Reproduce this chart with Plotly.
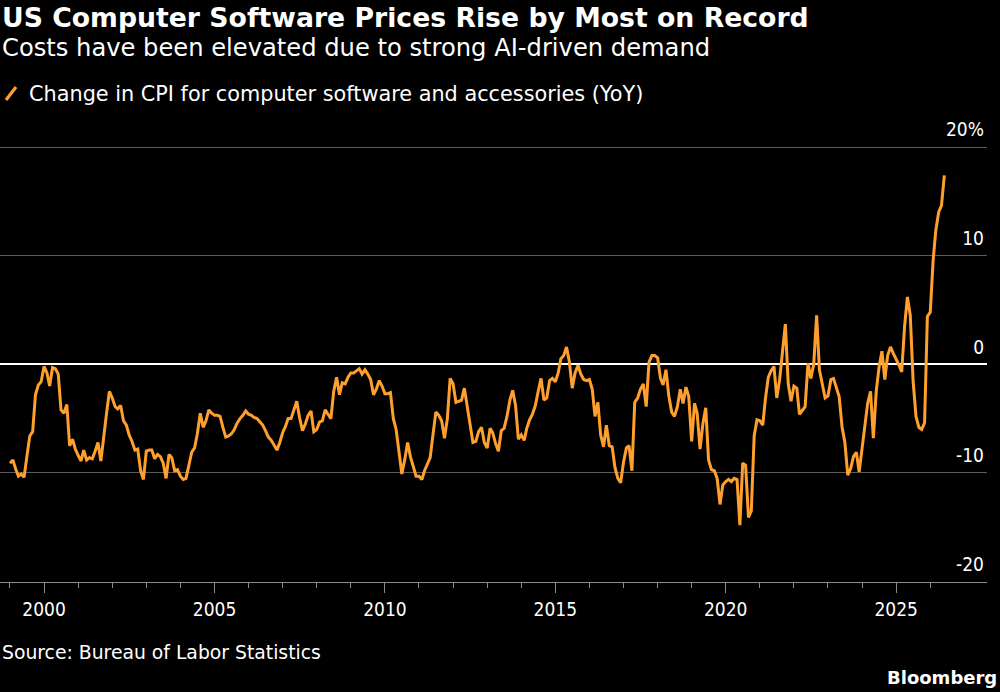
import pandas as pd
import plotly.graph_objects as go

# Monthly YoY change in CPI for computer software and accessories (%), from Jan 1999
start_month = "1999-01-01"
values = [
    -9.1, -8.8, -9.6, -10.3, -10.1, -10.4, -8.5, -6.6, -6.2, -2.8, -1.9, -1.6,   # 1999
    -0.2, -0.8, -2.0, -0.3, -0.4, -0.9, -4.2, -4.5, -3.7, -7.5, -6.9, -7.8,      # 2000
    -8.4, -8.9, -7.9, -8.8, -8.6, -8.7, -8.0, -7.2, -8.9, -6.5, -4.5, -2.5,      # 2001
    -3.1, -3.9, -4.1, -3.8, -5.2, -5.6, -6.5, -7.1, -7.9, -7.8, -9.8, -10.6,     # 2002
    -8.0, -7.9, -7.9, -8.7, -8.3, -8.5, -9.1, -10.5, -8.3, -8.6, -9.8, -9.7,     # 2003
    -10.3, -10.6, -10.5, -9.3, -8.1, -7.7, -6.4, -4.5, -5.8, -5.2, -4.2, -4.5,   # 2004
    -4.7, -4.7, -4.8, -5.8, -6.7, -6.6, -6.4, -6.0, -5.4, -5.0, -4.7, -4.3,      # 2005
    -4.6, -4.7, -4.9, -5.0, -5.3, -5.6, -6.1, -6.7, -7.0, -7.5, -7.9, -7.2,      # 2006
    -6.3, -5.7, -5.0, -5.0, -4.3, -3.4, -4.9, -6.1, -5.5, -4.7, -4.3, -6.2,      # 2007
    -6.0, -5.3, -5.2, -4.2, -4.6, -5.0, -2.5, -1.2, -2.8, -1.7, -1.8, -1.2,      # 2008
    -0.8, -0.8, -0.6, -0.4, -0.9, -0.5, -0.9, -1.4, -2.8, -2.3, -1.5, -2.0,      # 2009
    -2.7, -2.7, -2.6, -5.0, -6.0, -8.2, -10.1, -8.8, -7.2, -8.5, -9.5, -10.3,    # 2010
    -10.3, -10.6, -9.8, -9.2, -8.6, -6.4, -4.4, -4.7, -5.2, -6.8, -5.0, -1.3,    # 2011
    -1.8, -3.5, -3.4, -3.3, -2.2, -3.9, -5.5, -7.2, -7.1, -6.2, -5.8, -7.2,      # 2012
    -7.7, -5.9, -6.3, -7.3, -8.0, -6.1, -5.9, -4.8, -3.3, -2.4, -3.8, -6.9,      # 2013
    -6.5, -7.0, -5.9, -5.1, -4.6, -3.8, -2.5, -1.3, -3.3, -3.1, -1.5, -1.3,      # 2014
    -1.6, -0.8, 0.5, 0.8, 1.6, 0.2, -2.2, -0.8, -0.1, -0.9, -1.4, -1.5,          # 2015
    -1.4, -2.3, -4.8, -3.5, -6.5, -7.6, -5.6, -7.5, -7.6, -9.5, -10.5, -10.9,    # 2016
    -9.0, -7.7, -7.5, -9.8, -3.5, -3.1, -2.3, -1.8, -3.9, 0.2, 0.8, 0.8,         # 2017
    0.6, -1.3, -1.9, -0.5, -2.9, -4.4, -4.8, -3.9, -2.3, -3.6, -2.1, -3.0,       # 2018
    -7.1, -3.6, -4.5, -7.8, -5.5, -4.0, -8.8, -9.7, -9.8, -10.5, -12.9, -11.1,   # 2019
    -10.8, -10.6, -10.8, -10.5, -10.6, -14.8, -9.1, -9.3, -14.1, -13.5, -6.6, -5.1,  # 2020
    -5.2, -5.6, -3.2, -1.2, -0.6, -0.2, -3.1, -1.4, 1.2, 3.7, -1.8, -3.4,        # 2021
    -2.0, -2.2, -4.6, -4.2, -3.9, 0.1, -1.3, -0.0, 4.5, -0.5, -1.8, -3.1,        # 2022
    -2.9, -1.4, -1.3, -2.1, -3.0, -5.8, -7.2, -10.2, -9.6, -8.5, -8.1, -9.9,     # 2023
    -7.8, -5.2, -3.6, -2.5, -6.8, -2.5, -0.3, 1.2, -1.4, 0.8, 1.6, 1.0,          # 2024
    0.5, -0.1, -0.7, 3.5, 6.2, 4.5, -1.5, -4.8, -5.8, -6.0, -5.4, 4.4,           # 2025
    4.8, 9.6, 12.3, 14.0, 14.6, 17.4,                                            # 2026
]

ytick_vals = [20, 10, 0, -10, -20]
ytick_text = ["20%", "10", "0", "-10", "-20"]
xtick_years = ["2000", "2005", "2010", "2015", "2020", "2025"]

series_name = "Change in CPI for computer software and accessories (YoY)"
title = "US Computer Software Prices Rise by Most on Record"
subtitle = "Costs have been elevated due to strong AI-driven demand"
source = "Source: Bureau of Labor Statistics"

dates = pd.date_range(start_month, periods=len(values), freq="MS")

ORANGE = "#FFA02E"
GRID = "#5c5c5c"
AXIS = "#8a8a8a"
TEXT = "#ffffff"
FONT = "DejaVu Sans, Verdana, sans-serif"
FONT_C = "DejaVu Sans Condensed, DejaVu Sans, sans-serif"

W, H = 1000, 692
ML, MR, MT, MB = 0, 13, 109, 110
plot_h = H - MT - MB
plot_w = W - ML - MR


def py(pix):
    return (H - MB - pix) / plot_h


def px(pix):
    return (pix - ML) / plot_w


fig = go.Figure()
fig.add_trace(go.Scatter(
    x=dates, y=values, mode="lines", name=series_name,
    line=dict(color=ORANGE, width=3), showlegend=False,
    hoverinfo="skip",
))

fig.update_layout(
    width=W, height=H,
    margin=dict(l=ML, r=MR, t=MT, b=MB, pad=0),
    paper_bgcolor="#000000", plot_bgcolor="#000000",
    font=dict(family=FONT, color=TEXT, size=17),
    showlegend=False,
)

fig.update_xaxes(
    type="date",
    range=["1998-09-16", "2027-09-01"],
    tickvals=[f"{y}-01-01" for y in xtick_years],
    ticktext=xtick_years,
    ticks="outside", ticklen=10, tickwidth=1, tickcolor=AXIS,
    minor=dict(dtick="M12", tick0="1999-01-01", ticks="outside", ticklen=5,
               tickcolor=AXIS, tickwidth=1, showgrid=False),
    showline=True, linecolor=AXIS, linewidth=1,
    showgrid=False, zeroline=False,
    tickfont=dict(size=19, color=TEXT, family=FONT_C),
)

fig.update_yaxes(
    range=[-20.04, 23.5],
    side="right",
    tickvals=ytick_vals, ticktext=ytick_text,
    ticklabelposition="inside top",
    ticklabelshift=-4,
    ticks="",
    showgrid=True, gridcolor=GRID, gridwidth=1,
    zeroline=True, zerolinecolor="#ffffff", zerolinewidth=1.6,
    showline=False,
    tickfont=dict(size=19, color=TEXT, family=FONT_C),
)

annotations = [
    dict(text=f"<b>{title}</b>", x=px(0), y=py(17), xanchor="left", yanchor="middle",
         font=dict(size=26.7, color=TEXT, family=FONT)),
    dict(text=subtitle, x=px(0), y=py(48), xanchor="left", yanchor="middle",
         font=dict(size=24.2, color=TEXT, family=FONT)),
    dict(text=series_name, x=px(27), y=py(94), xanchor="left", yanchor="middle",
         font=dict(size=20.8, color=TEXT, family=FONT)),
    dict(text=source, x=px(0), y=py(652), xanchor="left", yanchor="middle",
         font=dict(size=18.8, color=TEXT, family=FONT)),
    dict(text="<b>Bloomberg</b>", x=px(999), y=py(677), xanchor="right", yanchor="middle",
         font=dict(size=18, color=TEXT, family=FONT)),
]
for a in annotations:
    a.update(xref="paper", yref="paper", showarrow=False, align="left")
fig.update_layout(annotations=annotations)

fig.add_shape(type="line", xref="paper", yref="paper",
              x0=px(6), y0=py(100), x1=px(16), y1=py(87),
              line=dict(color=ORANGE, width=3.2))

fig.write_html("out.html")
